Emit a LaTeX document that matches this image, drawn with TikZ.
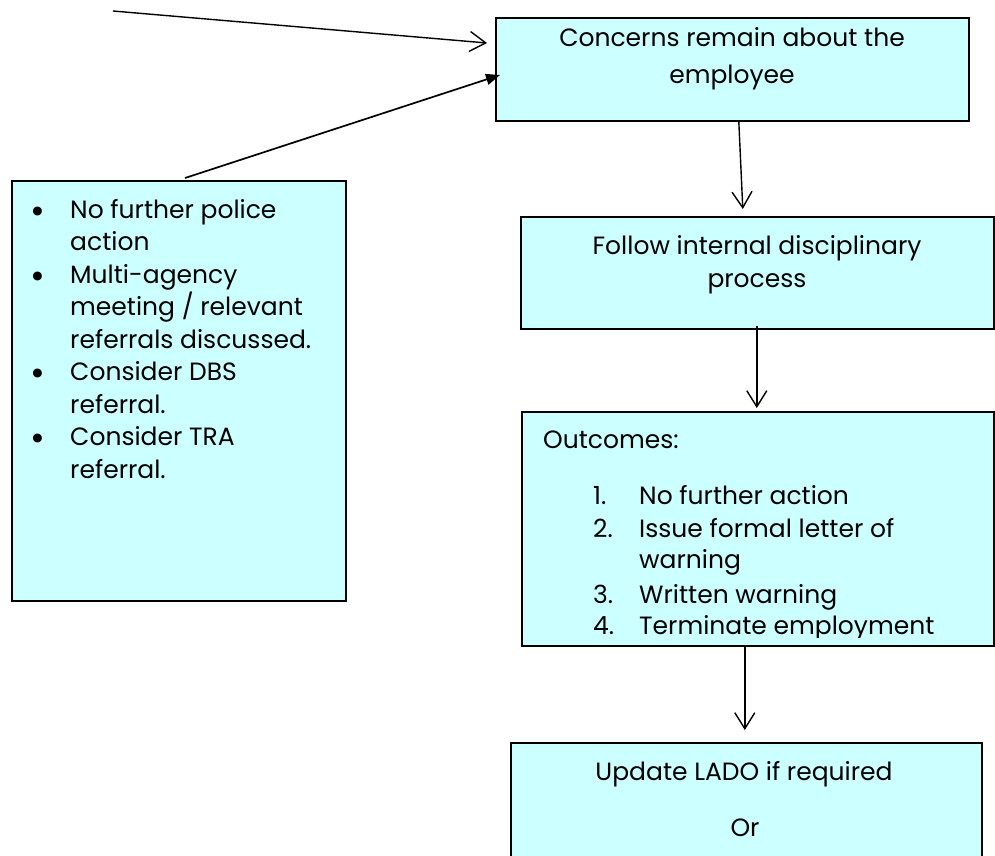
\documentclass[tikz,border=0pt]{standalone}
\usepackage{fontspec}
\setmainfont{Poppins}
\usetikzlibrary{arrows.meta,calc}
\definecolor{boxfill}{HTML}{CCFFFF}
\begin{document}
\begin{tikzpicture}[x=1pt,y=-1pt,
  box/.style={draw=black, line width=1.6pt, fill=boxfill, inner sep=0, anchor=north west},
  txt/.style={font=\fontsize{25}{32.5}\selectfont, inner sep=0, anchor=base west},
  ctxt/.style={font=\fontsize{25}{32.5}\selectfont, inner sep=0, anchor=base},
  bul/.style={font=\fontsize{36}{36}\selectfont, inner sep=0, anchor=center},
  conn/.style={line width=1.4pt, -{Straight Barb[length=16pt,width=20pt,line width=1.4pt]}},
  connf/.style={line width=1.7pt, -{Triangle[length=14pt,width=11pt]}}
]
\useasboundingbox (0,0) rectangle (995,855);
\clip (0,0) rectangle (995,855);

% boxes
\node[box, minimum width=473pt, minimum height=103pt] (c1) at (495,17) {};
\node[box, minimum width=334pt, minimum height=420pt] (lb) at (11,180) {};
\node[box, minimum width=473pt, minimum height=112pt] (c2) at (520,216) {};
\node[box, minimum width=472pt, minimum height=234pt] (c3) at (521,411) {};
\node[box, minimum width=471pt, minimum height=160pt] (c4) at (510,742) {};

% texts: concerns box
\node[ctxt] (t1a) at (732,46) {Concerns remain about the};
\node[ctxt] (t1b) at (732,83) {employee};

% left box
\node[bul] (b1) at (38,215) {•};
\node[txt] (l1) at (70,218) {No further police};
\node[txt] (l2) at (70,250) {action};
\node[bul] (b2) at (38,280) {•};
\node[txt] (l3) at (70,283) {Multi-agency};
\node[txt] (l4) at (70,315) {meeting / relevant};
\node[txt] (l5) at (70,348) {referrals discussed.};
\node[bul] (b3) at (38,377) {•};
\node[txt] (l6) at (70,380) {Consider DBS};
\node[txt] (l7) at (70,413) {referral.};
\node[bul] (b4) at (38,442) {•};
\node[txt] (l8) at (70,445) {Consider TRA};
\node[txt] (l9) at (70,478) {referral.};

% follow box
\node[ctxt] (t2a) at (757,254) {Follow internal disciplinary};
\node[ctxt] (t2b) at (757,287) {process};

% outcomes box
\begin{scope}
\clip (521,411) rectangle (995,637);
\node[txt] (o0) at (543,448) {Outcomes:};
\node[txt] (n1) at (593,504) {1.};
\node[txt] (o1) at (639,504) {No further action};
\node[txt] (n2) at (593,537) {2.};
\node[txt] (o2) at (639,537) {Issue formal letter of};
\node[txt] (o2b) at (639,568) {warning};
\node[txt] (n3) at (593,603) {3.};
\node[txt] (o3) at (639,603) {Written warning};
\node[txt] (n4) at (593,634) {4.};
\node[txt] (o4) at (639,634) {Terminate employment};
\end{scope}

% bottom box
\node[ctxt] (t4a) at (744,780) {Update LADO if required};
\node[ctxt] (t4b) at (745,836) {Or};

% connectors
\coordinate (s1) at (113,11);
\draw[conn] (s1) -- ($(c1.north west)+(-8,26)$);
\draw[connf] ($(lb.north west)+(174,-2)$) -- ($(c1.north west)+(5,58)$);
\draw[conn] ($(c1.south)+(6.5,0)$) -- ($(c2.north)+(-14.5,-7)$);
\draw[conn] ($(c2.south)+(-0.5,-4)$) -- ($(c3.north)+(-1,-3)$);
\draw[conn] ($(c3.south)+(-13,0)$) -- ($(c4.north)+(-1.5,-12)$);
\end{tikzpicture}
\end{document}
